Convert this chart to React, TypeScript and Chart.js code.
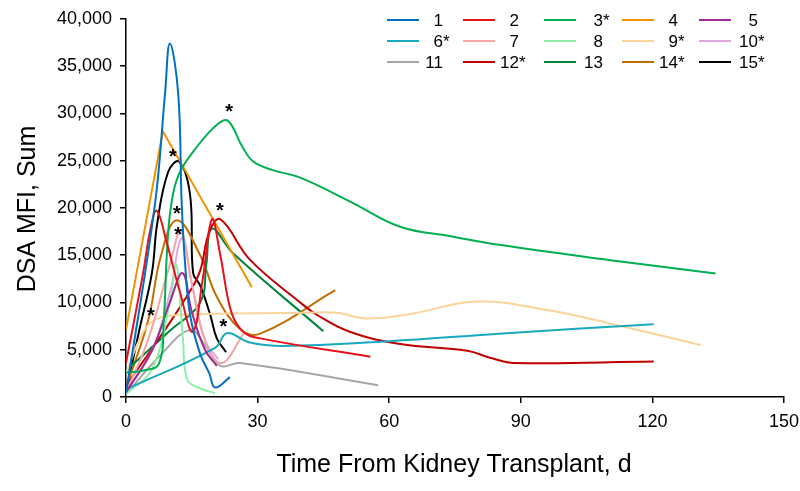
import { useEffect, useRef } from "react";
import { Chart, registerables } from "chart.js";
Chart.register(...registerables);

const FONT = "'Liberation Sans', Arial, sans-serif";

const seriesLabels = ["1", "2", "3*", "4", "5", "6*", "7", "8", "9*", "10*", "11", "12*", "13", "14*", "15*"];
const seriesColors = ["#0070C0", "#E8111B", "#00B050", "#F39200", "#A02B93", "#17A9BE", "#F4A6A6", "#8EF0A8", "#FAD49A", "#E0A8E0", "#A6A6A6", "#C00000", "#00843D", "#C07000", "#000000"];

const s1Days = [0, 6.6, 8.9, 10, 11.9, 12.7, 13.5, 14.6, 16.9, 19, 20.3, 23.7];
const s1Values = [400, 20400, 32100, 37400, 32100, 20400, 13900, 8700, 4560, 2500, 1000, 2100];
const s2Days = [0, 3.9, 5.5, 7, 9.3, 12.3, 15.2, 17.5, 19.6, 21.5, 24, 26.7, 30.6, 55.7];
const s2Values = [3600, 13100, 17600, 19700, 16300, 11100, 6900, 12500, 18800, 15000, 9000, 6900, 6200, 4250];
const s3Days = [0, 4, 7.5, 8.6, 9.3, 10.2, 12, 16.4, 21, 23.3, 26.5, 29, 33.5, 39.7, 51, 62.5, 74, 85, 110, 134.4];
const s3Values = [2600, 2800, 3500, 8000, 15000, 20000, 23500, 26600, 28900, 29200, 26500, 24900, 24000, 23200, 20700, 18000, 17000, 16100, 14500, 13050];
const s4Days = [0, 8.4, 28.7];
const s4Values = [7100, 28100, 11600];
const s5Days = [0, 6, 10, 12.9, 15, 18, 20.7];
const s5Values = [500, 5000, 10000, 13100, 9000, 5000, 3300];
const s6Days = [0, 20.3, 23, 28, 35.8, 60, 85, 120.3];
const s6Values = [800, 5200, 6750, 5800, 5400, 5900, 6700, 7700];
const s7Days = [0, 5, 10, 12.5, 15, 18, 21.8, 26.8];
const s7Values = [500, 6000, 14000, 17500, 12000, 6000, 3600, 6700];
const s8Days = [0, 6, 10, 11.5, 13, 14, 17, 20.3];
const s8Values = [300, 3000, 10000, 14000, 6000, 1800, 900, 400];
const s9Days = [0, 3, 5.7, 10, 20, 40, 48, 55, 65, 80, 96, 111, 131];
const s9Values = [2500, 6000, 7900, 8600, 8800, 8900, 8900, 8300, 8800, 10100, 9200, 7700, 5500];
const s10Days = [0, 6, 10, 12.7, 15, 18, 21];
const s10Values = [500, 5000, 11000, 16800, 12000, 6000, 4000];
const s11Days = [0, 8, 14.6, 18, 21.5, 26, 57.5];
const s11Values = [300, 4500, 7100, 5500, 3300, 3600, 1250];
const s12Days = [0, 8, 15, 17, 19, 21.5, 28.3, 39.7, 43.5, 51, 62.5, 77.8, 83, 88.3, 120.3];
const s12Values = [1200, 6500, 11500, 13500, 17500, 18800, 14500, 10000, 8700, 6900, 5600, 4900, 4150, 3600, 3750];
const s13Days = [0, 10, 16.9, 18.3, 19.6, 24.4, 45];
const s13Values = [2800, 7000, 10000, 14000, 17800, 15200, 6950];
const s14Days = [0, 5, 8, 11.6, 16.9, 20.7, 26, 30.6, 47.7];
const s14Values = [1000, 8000, 15000, 18700, 15000, 10600, 7200, 6700, 11300];
const s15Days = [0, 3, 5.9, 7.1, 9.6, 12.1, 14.6, 15.3, 16.9, 19.2, 20.7, 22.8];
const s15Values = [500, 7000, 13100, 18300, 23800, 24900, 21400, 13100, 11800, 8700, 6200, 4750];

const seriesDays = [s1Days, s2Days, s3Days, s4Days, s5Days, s6Days, s7Days, s8Days, s9Days, s10Days, s11Days, s12Days, s13Days, s14Days, s15Days];
const seriesValues = [s1Values, s2Values, s3Values, s4Values, s5Values, s6Values, s7Values, s8Values, s9Values, s10Values, s11Values, s12Values, s13Values, s14Values, s15Values];
const seriesTension = [0.4, 0.4, 0.4, 0, 0.4, 0.4, 0.4, 0.4, 0.4, 0.4, 0.4, 0.4, 0.4, 0.4, 0.4];

const starDays = [23.5, 10.7, 11.6, 11.9, 21.4, 5.7, 22.2];
const starValues = [30000, 25300, 19200, 17000, 19600, 8500, 7300];

const xTickStep = 30;
const yTickStep = 5000;
const xTitle = "Time From Kidney Transplant, d";
const yTitle = "DSA MFI, Sum";

const overlayPlugin = {
  id: "overlay",
  afterDraw(chart: any) {
    const ctx = chart.ctx;
    const xs = chart.scales.x;
    const ys = chart.scales.y;
    ctx.save();
    ctx.fillStyle = "#000";
    ctx.font = `bold 20px ${FONT}`;
    ctx.textAlign = "center";
    ctx.textBaseline = "alphabetic";
    for (let i = 0; i < starDays.length; i++) {
      const px = xs.getPixelForValue(starDays[i]);
      const py = ys.getPixelForValue(starValues[i]);
      ctx.fillText("*", px, py + 5);
    }
    const colLineX = [387, 463, 544, 622, 699];
    const colDigitRight = [443, 519, 603, 678, 758];
    const rowY = [20, 41, 62];
    ctx.font = `17px ${FONT}`;
    ctx.textBaseline = "middle";
    for (let i = 0; i < seriesLabels.length; i++) {
      const row = Math.floor(i / 5);
      const col = i % 5;
      const y = rowY[row];
      ctx.strokeStyle = seriesColors[i];
      ctx.lineWidth = 2;
      ctx.beginPath();
      ctx.moveTo(colLineX[col], y);
      ctx.lineTo(colLineX[col] + 32, y);
      ctx.stroke();
      const lab = seriesLabels[i];
      const digits = lab.replace("*", "");
      const w = ctx.measureText(digits).width;
      ctx.textAlign = "left";
      ctx.fillStyle = "#000";
      ctx.fillText(lab, colDigitRight[col] - w, y + 1);
    }
    ctx.font = `25px ${FONT}`;
    ctx.textAlign = "center";
    ctx.textBaseline = "middle";
    ctx.fillText(xTitle, 454, 465);
    ctx.translate(28, 209);
    ctx.rotate(-Math.PI / 2);
    ctx.fillText(yTitle, 0, 0);
    ctx.restore();
  },
};

export default function App() {
  const ref = useRef<HTMLCanvasElement>(null);
  useEffect(() => {
    document.body.style.margin = "0";
    const datasets = seriesLabels.map((label, i) => ({
      label,
      data: seriesDays[i].map((d, j) => ({ x: d, y: seriesValues[i][j] })),
      borderColor: seriesColors[i],
      backgroundColor: seriesColors[i],
      borderWidth: 2,
      pointRadius: 0,
      tension: seriesTension[i],
      fill: false,
    }));
    const chart = new Chart(ref.current!, {
      type: "line",
      data: { datasets },
      options: {
        animation: false,
        responsive: false,
        layout: { padding: { top: 11, right: 16, left: 0, bottom: 0 } },
        plugins: { legend: { display: false }, tooltip: { enabled: false } },
        scales: {
          x: {
            type: "linear",
            min: 0,
            max: 150,
            ticks: { stepSize: xTickStep, color: "#000", font: { family: FONT, size: 18 }, padding: 8, maxRotation: 0 },
            grid: { drawOnChartArea: false, drawTicks: true, tickLength: 6, color: "#000", lineWidth: 1.5 },
            border: { color: "#000", width: 1.5 },
            afterFit: (s: any) => { s.height = 94; s.paddingRight = 0; s.paddingLeft = 0; },
          },
          y: {
            type: "linear",
            min: 0,
            max: 40000,
            ticks: {
              stepSize: yTickStep,
              color: "#000",
              font: { family: FONT, size: 18 },
              padding: 8,
              callback: (v: any) => Number(v).toLocaleString("en-US"),
            },
            grid: { drawOnChartArea: false, drawTicks: true, tickLength: 6, color: "#000", lineWidth: 1.5 },
            border: { color: "#000", width: 1.5 },
            afterFit: (s: any) => { s.width = 126; },
          },
        },
      },
      plugins: [overlayPlugin],
    });
    return () => chart.destroy();
  }, []);
  return (
    <div style={{ width: 800, height: 491, position: "relative" }}>
      <canvas ref={ref} width={800} height={491} style={{ display: "block" }} />
    </div>
  );
}
